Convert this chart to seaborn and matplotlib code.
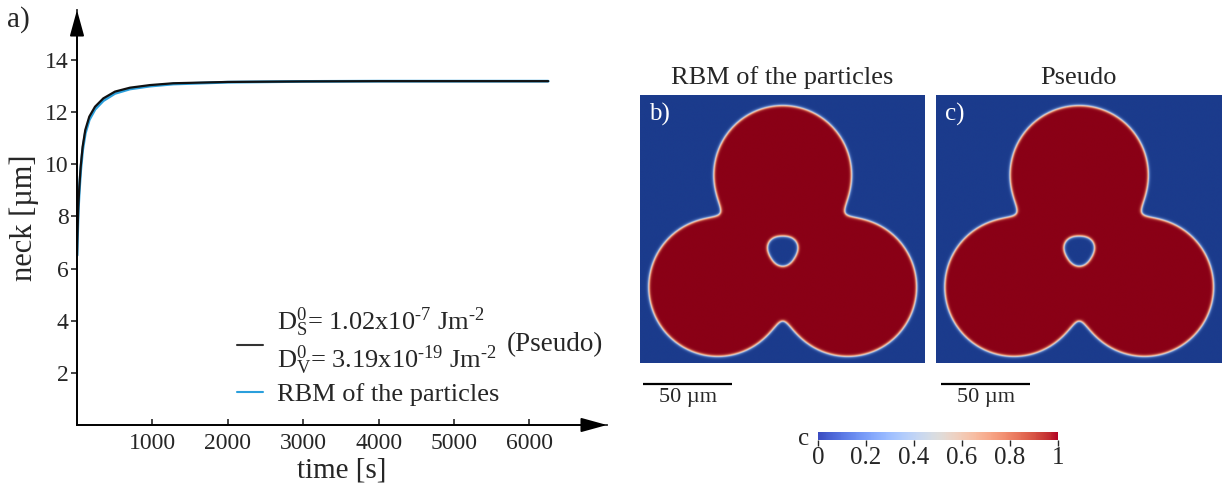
"""Neck growth vs time and the sintered three-particle microstructures."""

import numpy as np
import pandas as pd
import matplotlib

matplotlib.use("Agg")
import matplotlib.pyplot as plt
import seaborn as sns
from matplotlib.colors import LinearSegmentedColormap, Normalize
from matplotlib.lines import Line2D

# panel a) neck growth
time_s = [0, 4, 17, 31, 49, 75, 110, 163, 239, 349, 504, 703, 968, 1277,
          2000, 3000, 4000, 5000, 6250]
neck_pseudo = [6.5, 7.1, 8.37, 9.14, 9.91, 10.68, 11.32, 11.83, 12.21, 12.53,
               12.79, 12.94, 13.04, 13.11, 13.16, 13.18, 13.19, 13.19, 13.19]
neck_rbm = [6.5, 7.0, 8.25, 9.0, 9.77, 10.55, 11.19, 11.71, 12.11, 12.44,
            12.72, 12.89, 13.0, 13.08, 13.15, 13.18, 13.19, 13.19, 13.19]
x_ticks = [1000, 2000, 3000, 4000, 5000, 6000]
y_ticks = [2, 4, 6, 8, 10, 12, 14]

# panels b) c) particle arrangement in um (panel frame, y downwards)
panel_w, panel_h = 160.0, 150.0
particle_x = [80.0, 43.5, 116.5]
particle_y = [45.0, 107.5, 107.5]
particle_r = [38.8, 38.8, 38.8]
pore_x, pore_y, pore_r = 80.0, 87.0, 8.3
scale_bar_um = 50

cbar_ticks = [0, 0.2, 0.4, 0.6, 0.8, 1]
cbar_labels = ["0", "0.2", "0.4", "0.6", "0.8", "1"]

BLACK = "#111111"
BLUE = "#2a9fdc"
W, H = 1224, 486


def fig_rect(x0, y0, x1, y1):
    """pixel box (top-left origin) -> figure fraction rect"""
    return [x0 / W, 1 - y1 / H, (x1 - x0) / W, (y1 - y0) / H]


def phase_field(step=0.25, k=3.5, width=0.9):
    xs = np.arange(0, panel_w, step)
    ys = np.arange(0, panel_h, step)
    xx, yy = np.meshgrid(xs, ys)
    acc = np.zeros_like(xx)
    for cx, cy, r in zip(particle_x, particle_y, particle_r):
        acc += np.exp(-(np.hypot(xx - cx, yy - cy) - r) / k)
    d = -k * np.log(acc)
    theta = np.arctan2(yy - pore_y, xx - pore_x)
    r_eff = pore_r * (1 + 0.06 * np.cos(3 * (theta - np.pi / 2)))
    d = np.maximum(d, r_eff - np.hypot(xx - pore_x, yy - pore_y))
    # keep the diffuse interface equally thin at the necks
    gy, gx = np.gradient(d, step)
    d = d / np.clip(np.hypot(gx, gy), 0.3, None)
    return 0.5 * (1 - np.tanh(d / width))


sns.set_style("ticks")
plt.rcParams["font.family"] = ["Liberation Serif", "DejaVu Serif"]
plt.rcParams["mathtext.fontset"] = "custom"
plt.rcParams["mathtext.rm"] = "Liberation Serif"
plt.rcParams["mathtext.it"] = "Liberation Serif:italic"
plt.rcParams["mathtext.bf"] = "Liberation Serif:bold"

fig = plt.figure(figsize=(W / 100, H / 100), dpi=100)

# ---- a) neck vs time
ax = fig.add_axes(fig_rect(77, 10, 607, 425))
df_rbm = pd.DataFrame({"time": time_s, "neck": neck_rbm})
df_ps = pd.DataFrame({"time": time_s, "neck": neck_pseudo})
sns.lineplot(data=df_rbm, x="time", y="neck", color=BLUE, linewidth=2.0, ax=ax)
sns.lineplot(data=df_ps, x="time", y="neck", color=BLACK, linewidth=1.6, ax=ax)

ax.set_xlim(0, 7030)
ax.set_ylim(0, 15.92)
ax.set_xticks(x_ticks)
ax.set_yticks(y_ticks)
ax.tick_params(axis="y", direction="out", length=4, width=1.2, labelsize=17, pad=2)
ax.tick_params(axis="x", direction="in", length=4, width=1.2, labelsize=17, pad=6)
ax.set_xlabel("time [s]", fontsize=21, labelpad=2)
ax.set_ylabel("neck [µm]", fontsize=22, labelpad=4)
for side in ("top", "right"):
    ax.spines[side].set_visible(False)
for side in ("left", "bottom"):
    ax.spines[side].set_linewidth(1.3)
arrow = dict(arrowstyle="-|>,head_length=0.8,head_width=0.22", mutation_scale=20,
             lw=1.3, color="k", shrinkA=0, shrinkB=0)
ax.annotate("", xy=(1, 0), xytext=(0, 0), xycoords="axes fraction", arrowprops=arrow)
ax.annotate("", xy=(0, 1), xytext=(0, 0), xycoords="axes fraction", arrowprops=arrow)

hy = "\u2010"
label_ps = (r"$\mathrm{D}^{0}_{\mathrm{S}}$= 1.02x10$^{" + hy + "7}$ Jm$^{" + hy + "2}$\n"
            + r"$\mathrm{D}^{0}_{\mathrm{V}}$= 3.19x10$^{" + hy + "19}$ Jm$^{" + hy + "2}$")
handles = [Line2D([], [], color="#333333", lw=1.5), Line2D([], [], color=BLUE, lw=1.5)]
leg = ax.legend(handles, [label_ps, "RBM of the particles"], loc="lower left",
                bbox_to_anchor=(0.257, -0.012), frameon=False, fontsize=19,
                handlelength=1.0, handletextpad=0.5, labelspacing=0.2)
h0 = leg.legend_handles[0]
h0.set_ydata(np.asarray(h0.get_ydata()) - 3)
fig.text(507 / W, 1 - 345 / H, "(Pseudo)", fontsize=19.5, va="center")
fig.text(7 / W, 1 - 6 / H, "a)", fontsize=21, va="top")

# ---- b) c) phase field snapshots
field = phase_field()
cmap_field = LinearSegmentedColormap.from_list(
    "field", ["#1b3b8c", "#5b7fc8", "#e2e2e2", "#f39a72", "#8a0016"])
panels = [(640, "RBM of the particles", "b)", 3), (936, "Pseudo", "c)", 5)]
for x0, title, tag, bar_px in panels:
    axp = fig.add_axes(fig_rect(x0, 95, x0 + 285, 363))
    axp.imshow(field, cmap=cmap_field, vmin=0, vmax=1, aspect="auto",
               extent=[0, panel_w, panel_h, 0], interpolation="bilinear")
    axp.set_xticks([])
    axp.set_yticks([])
    for sp in axp.spines.values():
        sp.set_visible(False)
    axp.set_title(title, fontsize=19, pad=8)
    axp.text(0.03, 0.97, tag, transform=axp.transAxes, color="white",
             fontsize=18, va="top", ha="left")
    bx = bar_px / 1.78
    axp.plot([bx, bx + scale_bar_um], [162, 162], color="k", lw=1.6,
             clip_on=False, solid_capstyle="butt")
    axp.text(bx + scale_bar_um / 2, 164, f"{scale_bar_um} µm", ha="center",
             va="top", fontsize=16, clip_on=False)
    axp.set_xlim(0, panel_w)
    axp.set_ylim(panel_h, 0)

# ---- colorbar
cax = fig.add_axes(fig_rect(818, 432, 1058, 440))
sm = matplotlib.cm.ScalarMappable(norm=Normalize(0, 1), cmap="coolwarm")
cb = fig.colorbar(sm, cax=cax, orientation="horizontal", ticks=cbar_ticks)
cb.outline.set_visible(False)
cb.set_ticklabels(cbar_labels)
cax.tick_params(direction="out", length=4, width=1, labelsize=18, pad=1)
fig.text(798 / W, 1 - 439 / H, "c", fontsize=18, va="center")

fig.savefig("out.png", dpi=100)
